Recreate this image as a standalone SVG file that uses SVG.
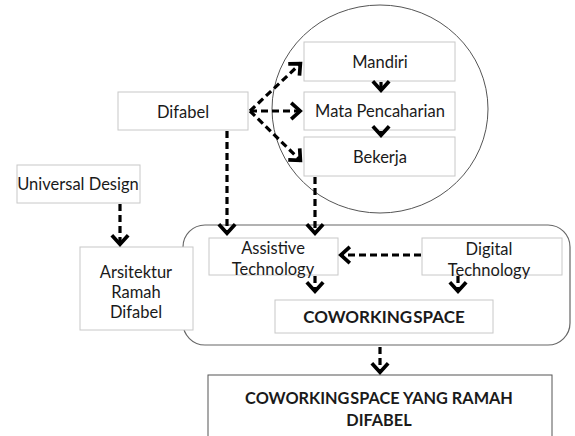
<svg xmlns="http://www.w3.org/2000/svg" width="575" height="436" viewBox="0 0 575 436">
<style>
.box{fill:#fff;stroke:#c8c8c8;stroke-width:1}
.t{font-family:Lato,"Open Sans",sans-serif;font-size:16.5px;fill:#1a1a1a;text-anchor:middle}
.b{font-weight:bold;font-size:16.3px}
.c{fill:none;stroke:#000;stroke-width:3.2;stroke-dasharray:7 4}
</style>
<defs>
<marker id="ah" markerUnits="userSpaceOnUse" markerWidth="24" markerHeight="24" refX="0" refY="0" viewBox="-13 -11 15 22" orient="auto">
<path d="M-9,-7.5 L-0.8,0 L-9,7.5" fill="none" stroke="#000" stroke-width="3.4"/>
</marker>
</defs>
<rect width="575" height="436" fill="#fff"/>
<ellipse cx="380" cy="109" rx="108" ry="104" fill="none" stroke="#555" stroke-width="1"/>
<rect x="183" y="225" width="387" height="120" rx="22" fill="none" stroke="#666" stroke-width="1.2"/>
<g id="difabel"><rect class="box" x="118" y="92" width="130" height="38"/><text class="t" x="183" y="118">Difabel</text></g>
<g id="mandiri"><rect class="box" x="304" y="42" width="151" height="39"/><text class="t" x="380" y="68">Mandiri</text></g>
<g id="mata"><rect class="box" x="304" y="92" width="151" height="38"/><text class="t" x="380" y="117">Mata Pencaharian</text></g>
<g id="bekerja"><rect class="box" x="304" y="137" width="151" height="39"/><text class="t" x="380" y="163">Bekerja</text></g>
<g id="universal"><rect class="box" x="17" y="165" width="123" height="38"/><text class="t" x="78" y="190">Universal Design</text></g>
<g id="arsitektur"><rect class="box" x="80" y="247" width="113" height="83"/><text class="t" x="136" y="278">Arsitektur</text><text class="t" x="136" y="298">Ramah</text><text class="t" x="136" y="318">Difabel</text></g>
<g id="assistive"><rect class="box" x="209" y="238" width="129" height="37"/><text class="t" x="273" y="254">Assistive</text><text class="t" x="273" y="275">Technology</text></g>
<g id="digital"><rect class="box" x="422" y="238" width="140" height="37"/><text class="t" x="489" y="255">Digital</text><text class="t" x="489" y="276">Technology</text></g>
<g id="coworking"><rect class="box" x="275" y="300" width="218" height="33"/><text class="t b" x="384" y="323" style="font-size:17px;word-spacing:-3px">COWORKING SPACE</text></g>
<g id="hasil"><rect x="208" y="375" width="344" height="70" fill="#fff" stroke="#555" stroke-width="1"/><text class="t b" x="379" y="404">COWORKING<tspan dx="-3"> SPACE YANG RAMAH</tspan></text><text class="t b" x="379" y="426">DIFABEL</text></g>
<g id="connectors">
<path class="c" d="M250,111 L301,63" marker-end="url(#ah)"/>
<path class="c" d="M250,111 L301,111" marker-end="url(#ah)"/>
<path class="c" d="M250,111 L301,161" marker-end="url(#ah)"/>
<path class="c" d="M381,82 L381,91" marker-end="url(#ah)"/>
<path class="c" d="M381,131 L381,136" marker-end="url(#ah)"/>
<path class="c" d="M227,131 L227,234" marker-end="url(#ah)"/>
<path class="c" d="M315,177 L315,234" marker-end="url(#ah)"/>
<path class="c" d="M120,204 L120,245" marker-end="url(#ah)"/>
<path class="c" d="M421,255 L340,255" marker-end="url(#ah)"/>
<path class="c" d="M315,276 L315,292" marker-end="url(#ah)"/>
<path class="c" d="M458,276 L458,292" marker-end="url(#ah)"/>
<path class="c" d="M380,347 L380,373" marker-end="url(#ah)"/>
</g>
</svg>
